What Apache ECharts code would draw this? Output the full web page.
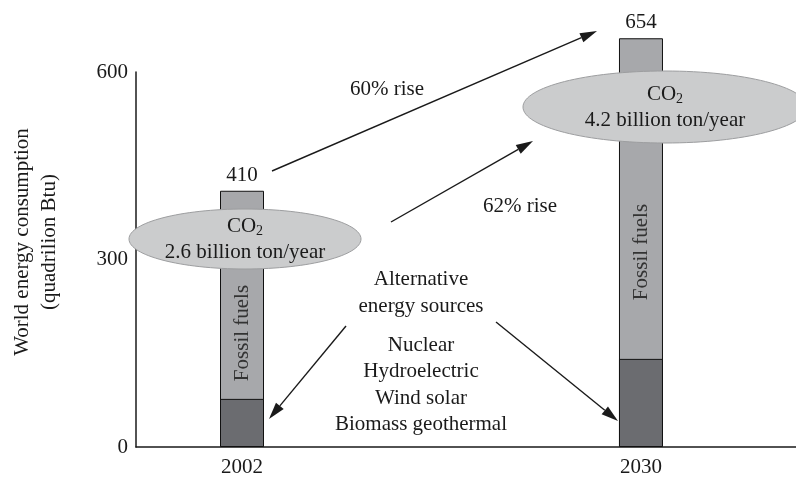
<!DOCTYPE html>
<html lang="en">
<head>
    <meta charset="UTF-8">
    <title>World energy consumption</title>
    <script src="https://cdn.jsdelivr.net/npm/echarts@6/dist/echarts.min.js"></script>
</head>
<style>
    html, body { margin: 0; padding: 0; background-color: #FFFFFF; }
</style>
<body>
<div id="main" style="width: 796px;height:481px;"></div>
<script>
    // data
    var years = [2002, 2030];
    var totals = [410, 654];       // fossil + alternative
    var alternative = [77, 141];   // dark lower part of each bar
    var yTicks = [0, 300, 600];

    var FONT = 'Liberation Serif, Times New Roman, serif';
    var INK = '#1a1a1a';

    function txt(x, y, text, extra) {
        var el = {
            type: 'text', x: x, y: y, z: 110,
            style: {
                text: text, fill: INK, fontFamily: FONT, fontSize: 21,
                textAlign: 'center', textVerticalAlign: 'middle', lineHeight: 26.5
            }
        };
        for (var k in extra) el[k] = extra[k];
        return el;
    }

    // line with a filled arrow head at (x2, y2)
    function arrow(x1, y1, x2, y2) {
        var a = Math.atan2(y2 - y1, x2 - x1);
        var len = 17, half = 5;
        var bx = x2 - len * Math.cos(a), by = y2 - len * Math.sin(a);
        var px = -Math.sin(a) * half, py = Math.cos(a) * half;
        return {
            type: 'group', z: 110,
            children: [
                { type: 'line', z: 110, shape: { x1: x1, y1: y1, x2: bx, y2: by },
                  style: { stroke: INK, lineWidth: 1.4 } },
                { type: 'polygon', z: 110,
                  shape: { points: [[x2, y2], [bx + px, by + py], [bx - px, by - py]] },
                  style: { fill: INK } }
            ]
        };
    }

    function co2(cx, cy, rx, ry, line2) {
        return {
            type: 'group', z: 105,
            children: [
                { type: 'ellipse', z: 105, shape: { cx: cx, cy: cy, rx: rx, ry: ry },
                  style: { fill: '#cbcccd', stroke: '#9d9ea0', lineWidth: 1 } },
                { type: 'text', z: 110, x: cx, y: cy - 13,
                  style: {
                      text: '{a|CO}{s|2}', textAlign: 'center', textVerticalAlign: 'middle',
                      rich: {
                          a: { fontFamily: FONT, fontSize: 21, fill: INK },
                          s: { fontFamily: FONT, fontSize: 14, fill: INK, padding: [10, 0, 0, 0] }
                      }
                  } },
                txt(cx, cy + 13, line2)
            ]
        };
    }

    function vertLabel(x, y) {
        return {
            type: 'text', x: x, y: y, z: 110, rotation: Math.PI / 2,
            style: {
                text: 'Fossil fuels', fill: '#333', fontFamily: FONT, fontSize: 21,
                textAlign: 'center', textVerticalAlign: 'middle'
            }
        };
    }

    var myChart = echarts.init(document.getElementById('main'));

    var option = {
        backgroundColor: '#FFFFFF',
        animation: false,
        grid: { left: 136, right: 0, top: 72, bottom: 34 },
        xAxis: {
            type: 'value',
            min: 1994.56,
            max: 2040.88,
            splitLine: { show: false },
            axisLine: { show: true, lineStyle: { color: INK, width: 1.5 } },
            axisTick: { show: false },
            axisLabel: {
                customValues: years,
                formatter: function (v) { return String(v); },
                color: INK, fontFamily: FONT, fontSize: 21, margin: 10
            }
        },
        yAxis: {
            type: 'value',
            min: 0,
            max: 600,
            interval: 300,
            splitLine: { show: false },
            axisLine: { show: true, lineStyle: { color: INK, width: 1.5 } },
            axisTick: { show: false },
            axisLabel: {
                customValues: yTicks,
                color: INK, fontFamily: FONT, fontSize: 21, margin: 8
            }
        },
        series: [
            {
                name: 'Fossil fuels',
                type: 'bar',
                clip: false,
                barWidth: 44,
                barGap: '-100%',
                z: 2,
                itemStyle: { color: '#a7a8ab', borderColor: '#111', borderWidth: 1 },
                label: {
                    show: true,
                    position: 'top',
                    distance: 5,
                    color: INK, fontFamily: FONT, fontSize: 21,
                    formatter: function (p) { return String(totals[p.dataIndex]); }
                },
                data: years.map(function (y, i) { return [y, totals[i]]; })
            },
            {
                name: 'Alternative energy sources',
                type: 'bar',
                clip: false,
                barWidth: 44,
                barGap: '-100%',
                z: 3,
                itemStyle: { color: '#6b6c70', borderColor: '#111', borderWidth: 1 },
                data: years.map(function (y, i) { return [y, alternative[i]]; })
            }
        ],
        graphic: [
            txt(36, 242, 'World energy consumption\n(quadrilion Btu)', { rotation: Math.PI / 2 }),
            vertLabel(242, 333),
            vertLabel(641, 252),
            co2(245, 239, 116, 30, '2.6 billion ton/year'),
            co2(665, 107, 142, 36, '4.2 billion ton/year'),
            txt(387, 89, '60% rise'),
            txt(520, 206, '62% rise'),
            txt(421, 293, 'Alternative\nenergy sources'),
            txt(421, 385, 'Nuclear\nHydroelectric\nWind solar\nBiomass geothermal'),
            arrow(272, 171, 597, 31),
            arrow(391, 222, 533, 141),
            arrow(346, 326, 269, 419),
            arrow(496, 322, 618, 421)
        ]
    };

    myChart.setOption(option);
</script>
</body>
</html>
